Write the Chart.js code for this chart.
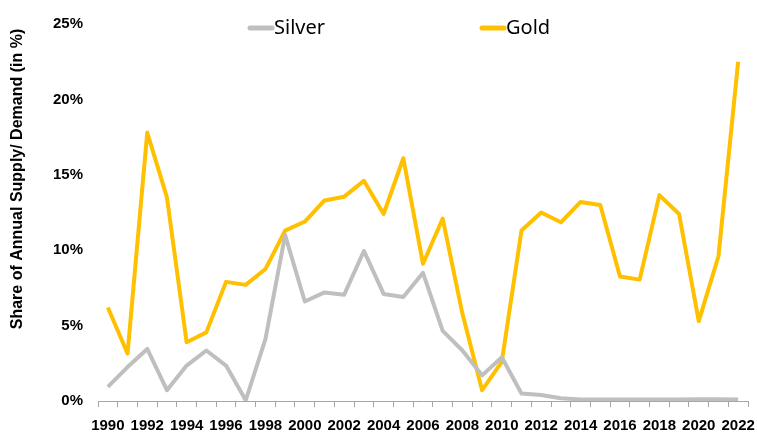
<!DOCTYPE html>
<html>
<head>
<meta charset="utf-8">
<script src="https://cdn.jsdelivr.net/npm/chart.js@4"></script>
<style>
  html, body { margin: 0; padding: 0; background: #fff; }
  #wrap { width: 757px; height: 435px; position: relative; }
</style>
</head>
<body>
<div id="wrap"><canvas id="chart" width="757" height="435"></canvas></div>
<script>
const years = [];
for (let y = 1990; y <= 2022; y++) years.push(String(y));

const silver = [0.94, 2.25, 3.45, 0.72, 2.35, 3.35, 2.35, 0.05, 4.1, 11.0, 6.6, 7.2, 7.05, 9.95,
  7.1, 6.9, 8.5, 4.65, 3.35, 1.7, 2.9, 0.5, 0.4, 0.18, 0.1, 0.1, 0.1, 0.1, 0.1, 0.1, 0.12, 0.12, 0.1];
const gold = [6.2, 3.15, 17.8, 13.5, 3.9, 4.55, 7.9, 7.7, 8.75, 11.3, 11.9, 13.3, 13.55, 14.6,
  12.4, 16.1, 9.1, 12.1, 5.8, 0.72, 2.6, 11.3, 12.5, 11.85, 13.2, 13.0, 8.25, 8.05, 13.65, 12.4, 5.3, 9.6, 22.5];
const yTicks = [0, 5, 10, 15, 20, 25];
const yTitle = 'Share of Annual Supply/ Demand (in %)';

const silverColor = '#BFBFBF';
const goldColor = '#FFC000';

// legend + y title drawn by hand so they can sit over the plot like the original
const overlay = {
  id: 'overlay',
  afterDraw(chart) {
    const ctx = chart.ctx;
    ctx.save();
    const items = [{ ds: 0, x: 248 }, { ds: 1, x: 480 }];
    items.forEach(it => {
      const ds = chart.data.datasets[it.ds];
      ctx.strokeStyle = ds.borderColor;
      ctx.lineWidth = 5;
      ctx.lineCap = 'round';
      ctx.beginPath();
      ctx.moveTo(it.x + 2, 28);
      ctx.lineTo(it.x + 24, 28);
      ctx.stroke();
      ctx.fillStyle = '#000';
      ctx.font = '20px "Noto Sans"';
      ctx.textBaseline = 'middle';
      ctx.textAlign = 'left';
      ctx.fillText(ds.label, it.x + 26, 28);
    });
    ctx.translate(18, 179);
    ctx.rotate(-Math.PI / 2);
    ctx.font = 'bold 16px "Liberation Sans", Arial, sans-serif';
    ctx.textAlign = 'center';
    ctx.textBaseline = 'middle';
    ctx.fillStyle = '#000';
    ctx.fillText(yTitle, 0, 0);
    ctx.restore();
  }
};

new Chart(document.getElementById('chart'), {
  type: 'line',
  data: {
    labels: years,
    datasets: [
      { label: 'Silver', data: silver, borderColor: silverColor, backgroundColor: silverColor },
      { label: 'Gold', data: gold, borderColor: goldColor, backgroundColor: goldColor }
    ]
  },
  options: {
    responsive: false,
    animation: false,
    layout: { padding: { top: 11, right: 9, left: 0, bottom: 0 } },
    elements: {
      line: { borderWidth: 4, tension: 0, borderJoinStyle: 'round', borderCapStyle: 'butt' },
      point: { radius: 0, hoverRadius: 0 }
    },
    plugins: {
      legend: { display: false },
      tooltip: { enabled: false }
    },
    scales: {
      x: {
        offset: true,
        grid: { offset: true, drawOnChartArea: false, drawTicks: true, tickLength: 6, color: '#A6A6A6' },
        border: { display: true, color: '#A6A6A6', width: 1 },
        ticks: {
          autoSkip: false,
          maxRotation: 0,
          padding: 10,
          color: '#000',
          font: { family: '"Liberation Sans", Arial, sans-serif', size: 15, weight: 'bold' },
          callback: function (v, i) { return i % 2 === 0 ? this.getLabelForValue(v) : ''; }
        },
        afterFit(scale) {
          scale.height = 34;
          scale.paddingLeft = 0;
          scale.paddingRight = 0;
        }
      },
      y: {
        min: 0,
        max: 25,
        afterBuildTicks(scale) { scale.ticks = yTicks.map(v => ({ value: v })); },
        grid: { display: false, drawTicks: false },
        border: { display: false },
        ticks: {
          padding: 15,
          color: '#000',
          font: { family: '"Liberation Sans", Arial, sans-serif', size: 15, weight: 'bold' },
          callback: v => v + '%'
        },
        afterFit(scale) { scale.width = 98; }
      }
    }
  },
  plugins: [overlay]
});
</script>
</body>
</html>
